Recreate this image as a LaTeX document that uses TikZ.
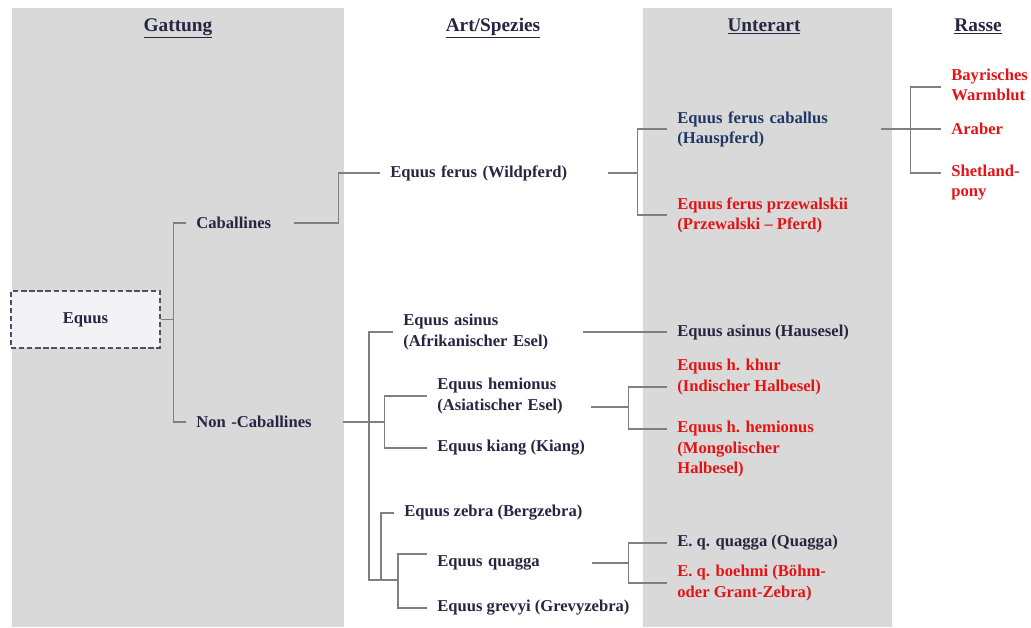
\documentclass[tikz,border=0pt]{standalone}
\usepackage{fontspec}
\setmainfont{Liberation Serif}
\usepackage{tikz}
\usetikzlibrary{positioning, calc}
\definecolor{panelgray}{RGB}{217,217,217}
\definecolor{txtnavy}{RGB}{38,38,66}
\definecolor{txtblue}{RGB}{31,56,100}
\definecolor{txtred}{RGB}{228,20,20}
\definecolor{linegray}{RGB}{128,128,128}
\definecolor{boxfill}{RGB}{243,243,245}
\definecolor{boxedge}{RGB}{80,80,100}
\tikzset{
  panel/.style={fill=panelgray, draw=none},
  header/.style={anchor=base, font=\fontsize{11}{13}\selectfont\bfseries, text=txtnavy},
  taxon/.style={anchor=west, align=left, inner xsep=0.2cm, inner ysep=1pt,
    font=\fontsize{9.45}{11.4}\selectfont\bfseries, text=txtnavy},
  redtaxon/.style={taxon, text=txtred},
  rootbox/.style={rectangle, draw=boxedge, fill=boxfill, dash pattern=on 3pt off 1.6pt,
    line width=0.6pt, minimum width=2.98cm, minimum height=1.14cm,
    font=\fontsize{9.45}{11.4}\selectfont\bfseries, text=txtnavy},
  conn/.style={draw=linegray, line width=0.8pt}
}

\begin{document}
\begin{tikzpicture}[x=0.02cm, y=-0.02cm]
  \useasboundingbox (0,0) rectangle (1031,627);
  \fill[panel] (12,8) rectangle (344,627);
  \fill[panel] (643,8) rectangle (892,627);

  \node[header] (hgatt) at (178,31) {\underline{Gattung}};
  \node[header] (hart) at (493,31) {\underline{Art/Spezies}};
  \node[header] (hunter) at (764,31) {\underline{Unterart}};
  \node[header] (hrasse) at (978,31) {\underline{Rasse}};

  % Gattung
  \node[rootbox] (equus) at (85.5,319.5) {Equus};
  \node[taxon, text width=1.74cm] (cab) at (186,223) {Caballines};
  \node[taxon, text width=2.72cm] (noncab) at (186,422) {Non -Caballines};

  % Art/Spezies
  \node[taxon, text width=4.14cm] (ferus) at (380,173) {Equus ferus (Wildpferd)};
  \node[taxon, text width=3.38cm] (asinus) at (393,332) {Equus asinus\\(Afrikanischer Esel)};
  \node[taxon, text width=2.86cm] (hemi) at (427,396) {Equus hemionus\\(Asiatischer Esel)};
  \node[taxon] (kiang) at (427,448) {Equus kiang (Kiang)};
  \node[taxon] (zebra) at (394,513) {Equus zebra (Bergzebra)};
  \node[taxon, text width=2.88cm] (quagga) at (427,563) {Equus quagga};
  \node[taxon] (grevyi) at (427,608) {Equus grevyi (Grevyzebra)};

  % Unterart
  \node[taxon, text width=3.86cm, text=txtblue] (caballus) at (667,129) {Equus ferus caballus\\(Hauspferd)};
  \node[redtaxon] (przew) at (667,215) {Equus ferus przewalskii\\(Przewalski -- Pferd)};
  \node[taxon] (hausesel) at (667,332) {Equus asinus (Hausesel)};
  \node[redtaxon] (khur) at (667,377) {Equus h. khur\\(Indischer Halbesel)};
  \node[redtaxon] (hhemi) at (667,449) {Equus h. hemionus\\(Mongolischer\\Halbesel)};
  \node[taxon] (qquagga) at (667,543) {E. q. quagga (Quagga)};
  \node[redtaxon] (boehmi) at (667,583) {E. q. boehmi (Böhm-\\oder Grant-Zebra)};

  % Rasse
  \node[redtaxon] (bayr) at (941,85) {Bayrisches\\Warmblut};
  \node[redtaxon] (araber) at (941,129) {Araber};
  \node[redtaxon] (shet) at (941,183) {Shetland-\\pony};

  % Connectors
  \draw[conn] (equus.east) -- ++(13,0) coordinate (eqj);
  \draw[conn] (cab.west) -| (eqj) |- (noncab.west);
  \draw[conn] (cab.east) -- ++(45,0) |- (ferus.west);
  \draw[conn] (ferus.east) -- ++(30,0) coordinate (ferj);
  \draw[conn] (caballus.west) -| (ferj) |- (przew.west);
  \draw[conn] (caballus.east) -- ++(30,0) coordinate (cabj);
  \draw[conn] ([yshift=-0.04cm]bayr.west) -| (cabj) |- ([yshift=0.2cm]shet.west);
  \draw[conn] (cabj) -- (araber.west);

  \draw[conn] (noncab.east) -- ++(42,0) coordinate (ncj);
  \draw[conn] (hemi.west) -| (ncj) |- (kiang.west);
  \coordinate (bj) at (369,580);
  \coordinate (zj) at (381,580);
  \draw[conn] ([yshift=0.18cm]quagga.west) -- ++(-29,0) coordinate (qj) |- (grevyi.west);
  \draw[conn] (asinus.west) -| (bj) -- (bj -| qj);
  \draw[conn] (zebra.west) -| (zj);

  \draw[conn] (asinus.east) -- (hausesel.west);
  \draw[conn] ([yshift=-0.22cm]hemi.east) -- ++(38,0) coordinate (hj);
  \draw[conn] ([yshift=-0.2cm]khur.west) -| (hj) |- ([yshift=0.4cm]hhemi.west);
  \draw[conn] (quagga.east) -- ++(37,0) coordinate (qsj);
  \draw[conn] (qquagga.west) -| (qsj) |- (boehmi.west);
\end{tikzpicture}
\end{document}
